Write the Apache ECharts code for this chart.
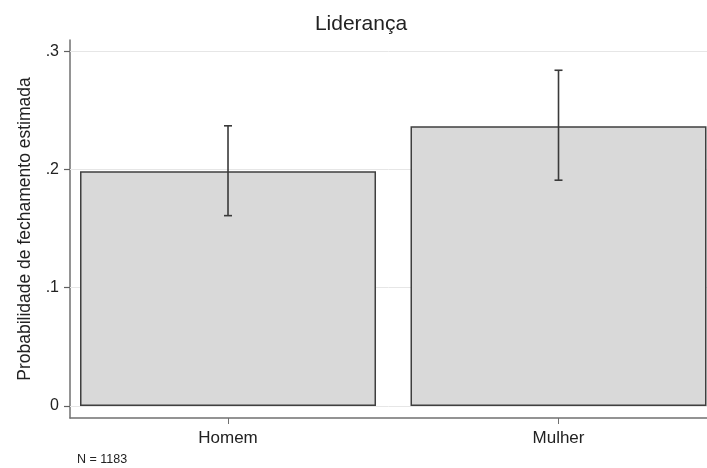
<!DOCTYPE html>
<html>
<head>
<meta charset="utf-8">
<script src="https://cdn.jsdelivr.net/npm/echarts@6/dist/echarts.min.js"></script>
<style>
  html, body { margin: 0; padding: 0; background: #fff; }
  #chart { width: 707px; height: 468px; }
</style>
</head>
<body>
<div id="chart"></div>
<script>
const categories = ['Homem', 'Mulher']
const estimates = [0.1986, 0.2366]
const lower = [0.161, 0.191]
const upper = [0.237, 0.284]
const yTicks = [0, 0.1, 0.2, 0.3]
const yTickLabels = ['0', '.1', '.2', '.3']
const note = 'N = 1183'

const font = 'Liberation Sans, Arial, sans-serif'
const positions = categories.map((c, i) => i + 1)

const chart = echarts.init(document.getElementById('chart'))

// barras com IC, estilo Stata
const option = {
  animation: false,
  textStyle: { fontFamily: font },
  title: [
    {
      text: 'Liderança',
      left: 356,
      top: 9,
      textAlign: 'center',
      textStyle: { fontFamily: font, fontSize: 21, fontWeight: 'normal', color: '#222' }
    },
    {
      text: note,
      left: 72,
      top: 448,
      textStyle: { fontFamily: font, fontSize: 12.5, fontWeight: 'normal', color: '#222' }
    }
  ],
  grid: { left: 70, right: 0, top: 40, bottom: 50, containLabel: false, outerBoundsMode: 'none' },
  xAxis: {
    type: 'value',
    min: 0.5219,
    max: 2.4493,
    splitLine: { show: false },
    axisLine: { show: true, onZero: false, lineStyle: { color: '#707070', width: 1.5 } },
    axisTick: { show: true, length: 6, customValues: positions, lineStyle: { color: '#707070', width: 1 } },
    axisLabel: {
      customValues: positions,
      margin: 12,
      fontSize: 17,
      color: '#222',
      formatter: (v) => categories[Math.round(v) - 1] || ''
    }
  },
  yAxis: {
    type: 'value',
    min: -0.0102,
    max: 0.3096,
    name: 'Probabilidade de fechamento estimada',
    nameLocation: 'middle',
    nameRotate: 90,
    nameGap: 36,
    nameMoveOverlap: false,
    nameTextStyle: { fontFamily: font, fontSize: 17.5, color: '#222' },
    splitLine: { show: false },
    axisLine: { show: true, onZero: false, lineStyle: { color: '#707070', width: 1.5 } },
    axisTick: { show: true, inside: false, length: 6, customValues: yTicks, lineStyle: { color: '#606060', width: 1.2 } },
    axisLabel: {
      customValues: yTicks,
      margin: 11,
      fontSize: 16,
      color: '#222',
      formatter: (v) => {
        const i = yTicks.findIndex(t => Math.abs(t - v) < 1e-9)
        return i >= 0 ? yTickLabels[i] : ''
      }
    }
  },
  series: [
    {
      type: 'bar',
      data: positions.map((x, i) => [x, estimates[i]]),
      barWidth: 296,
      z: 2,
      itemStyle: { color: '#d9d9d9', borderColor: '#3f3f3f', borderWidth: 1.5 },
      markLine: {
        silent: true,
        symbol: 'none',
        z: 1,
        label: { show: false },
        lineStyle: { color: '#e6e6e6', width: 1, type: 'solid' },
        data: yTicks.map(t => ({ yAxis: t }))
      }
    },
    {
      type: 'custom',
      z: 3,
      data: positions.map((x, i) => [x, lower[i], upper[i]]),
      renderItem: (params, api) => {
        const x = api.value(0)
        const lo = api.coord([x, api.value(1)])
        const hi = api.coord([x, api.value(2)])
        const cap = 4
        const style = { stroke: '#3a3a3a', lineWidth: 1.6 }
        return {
          type: 'group',
          children: [
            { type: 'line', shape: { x1: lo[0], y1: lo[1], x2: hi[0], y2: hi[1] }, style },
            { type: 'line', shape: { x1: hi[0] - cap, y1: hi[1], x2: hi[0] + cap, y2: hi[1] }, style },
            { type: 'line', shape: { x1: lo[0] - cap, y1: lo[1], x2: lo[0] + cap, y2: lo[1] }, style }
          ]
        }
      }
    }
  ]
}

chart.setOption(option)
</script>
</body>
</html>
